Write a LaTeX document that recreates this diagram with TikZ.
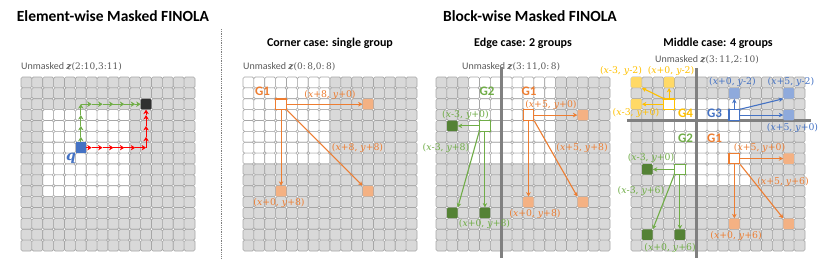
\documentclass[tikz,border=0pt]{standalone}
\usepackage{fontspec}
\setmainfont{Carlito}
\newfontfamily\labelfont{DejaVu Serif}
\usetikzlibrary{arrows.meta, positioning}

\definecolor{cellgray}{HTML}{D9D9D9}
\definecolor{cellline}{HTML}{A6A6A6}
\definecolor{txtgray}{HTML}{595959}
\definecolor{divgray}{HTML}{808080}
\definecolor{g1col}{HTML}{ED7D31}
\definecolor{g1fill}{HTML}{F4B183}
\definecolor{g2col}{HTML}{70AD47}
\definecolor{g2fill}{HTML}{548235}
\definecolor{g3col}{HTML}{4472C4}
\definecolor{g3fill}{HTML}{8FAADC}
\definecolor{g4col}{HTML}{FFC000}
\definecolor{g4fill}{HTML}{FFD966}
\definecolor{walkred}{HTML}{FF0000}
\definecolor{endblack}{HTML}{303030}

\tikzset{
    % Grid cell (masked = gray, unmasked = white)
    cell/.style={draw=cellline, line width=0.6pt, rounded corners=1.5pt},
    % Query position of a group - white box, coloured border
    group point/.style={rectangle, draw=#1, fill=white, line width=1.2pt, minimum size=10.5pt, inner sep=0pt},
    % Predicted position - filled box
    target point/.style={rectangle, fill=#1, minimum size=10.5pt, inner sep=0pt, rounded corners=1pt},
    % Shift from query to prediction
    shift arrow/.style={draw=#1, line width=1.1pt, -{Stealth[length=4.5pt, width=4.5pt]}},
    % One-step arrow of the element-wise walk
    walk/.style={draw=#1, line width=1.1pt, -{Stealth[length=4.5pt, width=5.5pt]}},
    shift label/.style={text=#1, font=\labelfont\fontsize{9.3}{10}\selectfont, inner sep=0pt},
    group label/.style={text=#1, font=\fontsize{13}{13}\selectfont\bfseries, inner sep=0pt},
    divider/.style={draw=divgray, line width=2.6pt},
    sepline/.style={draw=gray, line width=0.8pt, densely dotted},
    title/.style={font=\fontsize{15.5}{16}\selectfont\bfseries},
    subtitle/.style={font=\fontsize{12}{12}\selectfont\bfseries},
    unmasked/.style={text=txtgray, font=\fontsize{10}{10}\selectfont, anchor=west, inner sep=0pt}
}

% (x#1, y#2) offset label
\newcommand{\xyshift}[2]{(\textit{x}#1, \textit{y}#2)}
% the unmasked block z(...)
\newcommand{\zrange}[1]{{\labelfont\fontsize{9}{10}\selectfont\textbf{\textit{z}}(#1)}}

% 16x16 grid, white block: columns #1..#2-1, rows #3..#4-1
\newcommand{\maskgrid}[4]{%
    \foreach \c in {0,...,15}
        \foreach \r in {0,...,15} {
            \pgfmathtruncatemacro{\unmasked}{(\c>=#1)&&(\c<#2)&&(\r>=#3)&&(\r<#4)}
            \ifnum\unmasked=1 \def\cellfill{white}\else\def\cellfill{cellgray}\fi
            \draw[cell, fill=\cellfill] (\c,\r) rectangle (\c+1,\r+1);
        }%
}

\begin{document}
\begin{tikzpicture}[x=1pt, y=-1pt]
    \useasboundingbox (0,0) rectangle (830,263);

    % --- Titles ---
    \node[title] (ewtitle) at (113,16) {Element-wise Masked FINOLA};
    \node[title] (bwtitle) at (530,16) {Block-wise Masked FINOLA};
    \draw[sepline] (221,29) -- (221,258);

    \node[subtitle] (cornertitle) at (330,43) {Corner case: single group};
    \node[subtitle] (edgetitle) at (523,43) {Edge case: 2 groups};
    \node[subtitle] (middletitle) at (718,43) {Middle case: 4 groups};

    % --- Element-wise ---
    \node[unmasked] (um1) at (21,67) {Unmasked \zrange{2:10,3:11}};
    \begin{scope}[shift={(21,77)}, x=10.875pt, y=-10.875pt]
        \maskgrid{2}{10}{3}{11}
        \node[target point=g3col, rounded corners=0pt] (q) at (5.5,6.5) {};
        \node[target point=endblack] (zend) at (11.5,2.5) {};
        \node[text=g3col, font=\labelfont\fontsize{14}{14}\selectfont\bfseries\itshape, inner sep=0pt] (qlab) at (4.6,7.5) {q};

        % green: up, then right
        \draw[walk=g2col] (q.north) -- (5.5,5.5);
        \foreach \r in {5,4,3}
            \draw[walk=g2col] (5.5,\r+.5) -- (5.5,\r-.5);
        \foreach \c in {5,...,9}
            \draw[walk=g2col] (\c+.5,2.5) -- (\c+1.5,2.5);
        \draw[walk=g2col] (10.5,2.5) -- (zend.west);

        % red: right, then up
        \draw[walk=walkred] (q.east) -- (6.5,6.5);
        \foreach \c in {6,...,10}
            \draw[walk=walkred] (\c+.5,6.5) -- (\c+1.5,6.5);
        \foreach \r in {6,5,4}
            \draw[walk=walkred] (11.5,\r+.5) -- (11.5,\r-.5);
        \draw[walk=walkred] (11.5,3.5) -- (zend.south);
    \end{scope}

    % --- Corner case ---
    \node[unmasked] (um2) at (243,67) {Unmasked \zrange{0:\,8,0:\,8}};
    \begin{scope}[shift={(243,77)}, x=10.875pt, y=-10.875pt]
        \maskgrid{0}{8}{0}{8}
        \node[group point=g1col] (c1) at (3.5,2.5) {};
        \node[target point=g1fill] (c1r) at (11.5,2.5) {};
        \node[target point=g1fill] (c1d) at (3.5,10.5) {};
        \node[target point=g1fill] (c1rd) at (11.5,10.5) {};
        \node[group label=g1col] (c1lab) at (1.8,1.35) {G1};

        \draw[shift arrow=g1col] (c1.east) -- (c1r.west);
        \draw[shift arrow=g1col] (c1.south) -- (c1d.north);
        \draw[shift arrow=g1col] (c1.south east) -- (c1rd.north west);

        \node[shift label=g1col] (c1rlab) at (8.0,1.66) {\xyshift{+8}{+0}};
        \node[shift label=g1col] (c1rdlab) at (10.53,6.53) {\xyshift{+8}{+8}};
        \node[shift label=g1col] (c1dlab) at (3.31,11.59) {\xyshift{+0}{+8}};
    \end{scope}

    % --- Edge case ---
    \node[unmasked] (um3) at (462,67) {Unmasked \zrange{3:\,11,0:\,8}};
    \begin{scope}[shift={(436,77)}, x=10.875pt, y=-10.875pt]
        \maskgrid{3}{11}{0}{8}
        \coordinate (evtop) at (6,-0.92);
        \coordinate (evbot) at (6,16.64);
        \draw[divider] (evtop) -- (evbot);

        % G1
        \node[group point=g1col] (e1) at (8.5,3.5) {};
        \node[target point=g1fill] (e1r) at (13.5,3.5) {};
        \node[target point=g1fill] (e1d) at (8.5,11.5) {};
        \node[target point=g1fill] (e1rd) at (13.5,11.5) {};
        \draw[shift arrow=g1col] (e1.east) -- (e1r.west);
        \draw[shift arrow=g1col] (e1.south) -- (e1d.north);
        \draw[shift arrow=g1col] (e1.south east) -- (e1rd.north west);

        % G2
        \node[group point=g2col] (e2) at (4.5,4.5) {};
        \node[target point=g2fill] (e2l) at (1.5,4.5) {};
        \node[target point=g2fill] (e2d) at (4.5,12.5) {};
        \node[target point=g2fill] (e2ld) at (1.5,12.5) {};
        \draw[shift arrow=g2col] (e2.west) -- (e2l.east);
        \draw[shift arrow=g2col] (e2.south) -- (e2d.north);
        \draw[shift arrow=g2col] (e2.south west) -- (e2ld.north east);

        \node[group label=g2col] (e2lab) at (4.69,1.29) {G2};
        \node[group label=g1col] (e1lab) at (8.55,1.29) {G1};
        \node[shift label=g1col] (e1rlab) at (10.57,2.57) {\xyshift{+5}{+0}};
        \node[shift label=g1col] (e1rdlab) at (13.43,6.53) {\xyshift{+5}{+8}};
        \node[shift label=g1col] (e1dlab) at (9.10,12.6) {\xyshift{+0}{+8}};
        \node[shift label=g2col] (e2llab) at (2.71,3.49) {\xyshift{-3}{+0}};
        \node[shift label=g2col] (e2ldlab) at (0.92,6.53) {\xyshift{-3}{+8}};
        \node[shift label=g2col] (e2dlab) at (4.46,13.52) {\xyshift{+0}{+8}};
    \end{scope}

    % --- Middle case ---
    \node[unmasked] (um4) at (655,60) {Unmasked \zrange{3:\,11,2:\,10}};
    \begin{scope}[shift={(631,77)}, x=10.875pt, y=-10.875pt]
        \maskgrid{3}{11}{2}{10}
        \coordinate (mvtop) at (6,-0.83);
        \coordinate (mvbot) at (6,16.64);
        \coordinate (mhl) at (-0.37,4);
        \coordinate (mhr) at (16.55,4);
        \draw[divider] (mvtop) -- (mvbot);
        \draw[divider] (mhl) -- (mhr);

        % G4 (top left)
        \node[group point=g4col] (m4) at (3.5,2.5) {};
        \node[target point=g4fill] (m4l) at (0.5,2.5) {};
        \node[target point=g4fill] (m4u) at (3.5,0.5) {};
        \node[target point=g4fill] (m4lu) at (0.5,0.5) {};
        \draw[shift arrow=g4col] (m4.west) -- (m4l.east);
        \draw[shift arrow=g4col] (m4.north) -- (m4u.south);
        \draw[shift arrow=g4col] (m4.north west) -- (m4lu.south east);

        % G3 (top right)
        \node[group point=g3col] (m3) at (9.5,3.5) {};
        \node[target point=g3fill] (m3u) at (9.5,1.5) {};
        \node[target point=g3fill] (m3ru) at (14.5,1.5) {};
        \node[target point=g3fill] (m3r) at (14.5,3.5) {};
        \draw[shift arrow=g3col] (m3.north) -- (m3u.south);
        \draw[shift arrow=g3col] (m3.east) -- (m3r.west);
        \draw[shift arrow=g3col] (m3.north east) -- (m3ru.south west);

        % G1 (bottom right)
        \node[group point=g1col] (m1) at (9.5,7.5) {};
        \node[target point=g1fill] (m1r) at (14.5,7.5) {};
        \node[target point=g1fill] (m1d) at (9.5,13.5) {};
        \node[target point=g1fill] (m1rd) at (14.5,13.5) {};
        \draw[shift arrow=g1col] (m1.east) -- (m1r.west);
        \draw[shift arrow=g1col] (m1.south) -- (m1d.north);
        \draw[shift arrow=g1col] (m1.south east) -- (m1rd.north west);

        % G2 (bottom left)
        \node[group point=g2col] (m2) at (4.5,8.5) {};
        \node[target point=g2fill] (m2l) at (1.5,8.5) {};
        \node[target point=g2fill] (m2d) at (4.5,14.5) {};
        \node[target point=g2fill] (m2ld) at (1.5,14.5) {};
        \draw[shift arrow=g2col] (m2.west) -- (m2l.east);
        \draw[shift arrow=g2col] (m2.south) -- (m2d.north);
        \draw[shift arrow=g2col] (m2.south west) -- (m2ld.north east);

        \node[group label=g4col] (m4lab) at (5.01,3.31) {G4};
        \node[group label=g3col] (m3lab) at (7.68,3.31) {G3};
        \node[group label=g2col] (m2lab) at (5.01,5.61) {G2};
        \node[group label=g1col] (m1lab) at (7.68,5.61) {G1};

        \node[shift label=g4col] (m4lulab) at (-0.92,-0.55) {\xyshift{-3}{-2}};
        \node[shift label=g4col] (m4ulab) at (3.68,-0.55) {\xyshift{+0}{-2}};
        \node[shift label=g4col] (m4llab) at (0.46,3.31) {\xyshift{-3}{+0}};
        \node[shift label=g3col] (m3ulab) at (9.33,0.46) {\xyshift{+0}{-2}};
        \node[shift label=g3col] (m3rulab) at (14.71,0.46) {\xyshift{+5}{-2}};
        \node[shift label=g3col] (m3rlab) at (14.85,4.69) {\xyshift{+5}{+0}};
        \node[shift label=g1col] (m1rlab) at (11.82,6.53) {\xyshift{+5}{+0}};
        \node[shift label=g1col] (m1rdlab) at (13.98,9.66) {\xyshift{+5}{+6}};
        \node[shift label=g1col] (m1dlab) at (9.66,14.62) {\xyshift{+0}{+6}};
        \node[shift label=g2col] (m2llab) at (1.84,7.45) {\xyshift{-3}{+0}};
        \node[shift label=g2col] (m2ldlab) at (0.92,10.48) {\xyshift{-3}{+6}};
        \node[shift label=g2col] (m2dlab) at (3.59,15.72) {\xyshift{+0}{+6}};
    \end{scope}
\end{tikzpicture}
\end{document}
